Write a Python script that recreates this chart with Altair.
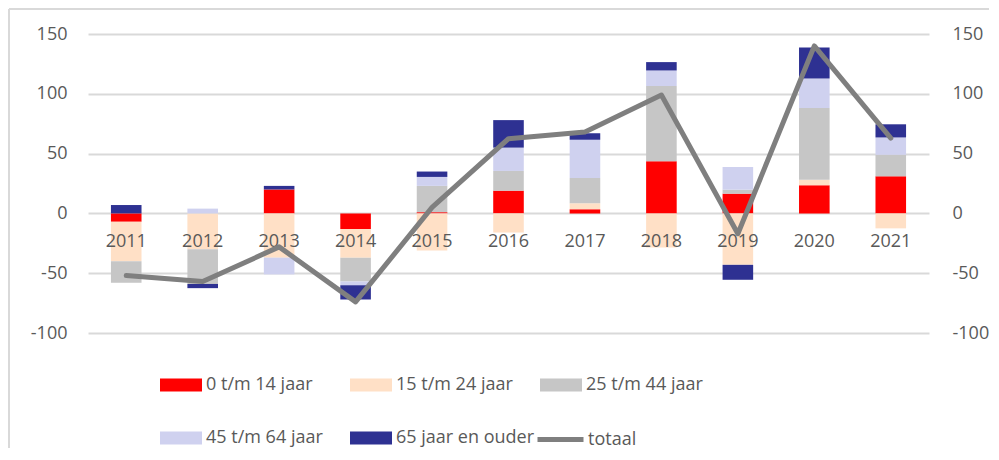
import altair as alt
import pandas as pd

years = ["2011", "2012", "2013", "2014", "2015", "2016", "2017", "2018", "2019", "2020", "2021"]
series = ["0 t/m 14 jaar", "15 t/m 24 jaar", "25 t/m 44 jaar", "45 t/m 64 jaar", "65 jaar en ouder"]
colors = ["#FF0000", "#FFE0C6", "#C6C6C6", "#CFD1EF", "#2E3192"]

v_0_14 = [-7, 0, 20, -13, 1, 19, 3.5, 43.5, 16.5, 23.5, 31]
v_15_24 = [-33, -30, -37, -24, -31, -16, 5, -28.5, -43, 4.7, -12.5]
v_25_44 = [-18, -29, 0, -20, 22, 16.5, 21, 63, 3.3, 60, 18]
v_45_64 = [0, 4, -14, -3, 7.5, 19.5, 32, 13, 19, 24.5, 14.5]
v_65 = [7, -3.5, 3, -12, 4.5, 23, 5.5, 7, -12.5, 26, 11]
totaal = [-52, -57, -28, -74, 5, 62.5, 68, 99, -17, 140, 63]

line_name = "totaal"
line_color = "#7F7F7F"
y_ticks = [-100, -50, 0, 50, 100, 150]

FONT = "Open Sans"
TXT = "#595959"

rows = []
for si, (name, vals) in enumerate(zip(series, [v_0_14, v_15_24, v_25_44, v_45_64, v_65])):
    for y, v in zip(years, vals):
        rows.append({"jaar": y, "groep": name, "idx": si, "waarde": v})
df_bars = pd.DataFrame(rows)
df_line = pd.DataFrame({"jaar": years, "totaal": totaal, "reeks": [line_name] * len(years)})
df_years = pd.DataFrame({"jaar": years})

xscale = alt.Scale(domain=years, paddingInner=0.6, paddingOuter=0.3)
yscale = alt.Scale(domain=[-100, 150], nice=False, zero=False)

bar_path = "M-1,-0.31H1V0.31H-1Z"
label_expr = "'' + datum.value"

bars = alt.Chart(df_bars).mark_bar().encode(
    x=alt.X("jaar:N", scale=xscale, axis=None),
    y=alt.Y("waarde:Q", scale=yscale, stack="zero",
            axis=alt.Axis(orient="left", values=y_ticks, title=None, domain=False, ticks=False,
                          grid=True, gridColor="#D9D9D9", gridWidth=2, labelPadding=21,
                          labelExpr=label_expr,
                          labelFont=FONT, labelFontSize=18, labelColor=TXT)),
    color=alt.Color("groep:N", scale=alt.Scale(domain=series, range=colors),
                    legend=alt.Legend(orient="none", legendX=72, legendY=330, title=None,
                                      direction="horizontal",
                                      columns=3, gridAlign="all", columnPadding=5, rowPadding=23,
                                      symbolType=bar_path, symbolSize=1764, symbolStrokeWidth=0,
                                      symbolOpacity=1, labelOffset=4, labelFont=FONT,
                                      labelFontSize=18, labelColor=TXT, labelLimit=300)),
    order=alt.Order("idx:Q", sort="ascending"),
)

labels = alt.Chart(df_years).mark_text(dy=29, baseline="middle", align="center",
                                       font=FONT, fontSize=18, color=TXT).encode(
    x=alt.X("jaar:N", scale=xscale, axis=None),
    y=alt.datum(0, scale=yscale, axis=None),
    text="jaar:N",
)

line = alt.Chart(df_line).mark_line(strokeWidth=5, strokeCap="round", strokeJoin="round").encode(
    x=alt.X("jaar:N", scale=xscale, axis=None),
    y=alt.Y("totaal:Q", scale=yscale,
            axis=alt.Axis(orient="right", values=y_ticks, title=None, domain=False, ticks=False,
                          grid=False, labelPadding=23, labelExpr=label_expr,
                          labelFont=FONT, labelFontSize=18, labelColor=TXT)),
    color=alt.Color("reeks:N", scale=alt.Scale(domain=[line_name], range=[line_color]),
                    legend=alt.Legend(orient="none", legendX=447, legendY=380, title=None,
                                      symbolType="stroke", symbolSize=2116, symbolStrokeWidth=5,
                                      labelOffset=2, labelFont=FONT, labelFontSize=18,
                                      labelColor=TXT)),
)

frame_left = alt.Chart(df_years).mark_rule(color="#D9D9D9", strokeWidth=2).encode(
    x=alt.value(-79), y=alt.value(-25), y2=alt.value(420))
frame_top = alt.Chart(df_years).mark_rule(color="#D9D9D9", strokeWidth=2).encode(
    x=alt.value(-79), x2=alt.value(902), y=alt.value(-25))

chart = alt.layer(frame_left, frame_top, bars, labels, line).resolve_scale(
    color="independent"
).resolve_axis(y="independent").properties(
    width=841, height=299, autosize="none",
    padding={"left": 80, "top": 26, "right": 60, "bottom": 115},
).configure_view(stroke=None)

chart.save("out.html", embed_options={"renderer": "svg", "actions": False})
